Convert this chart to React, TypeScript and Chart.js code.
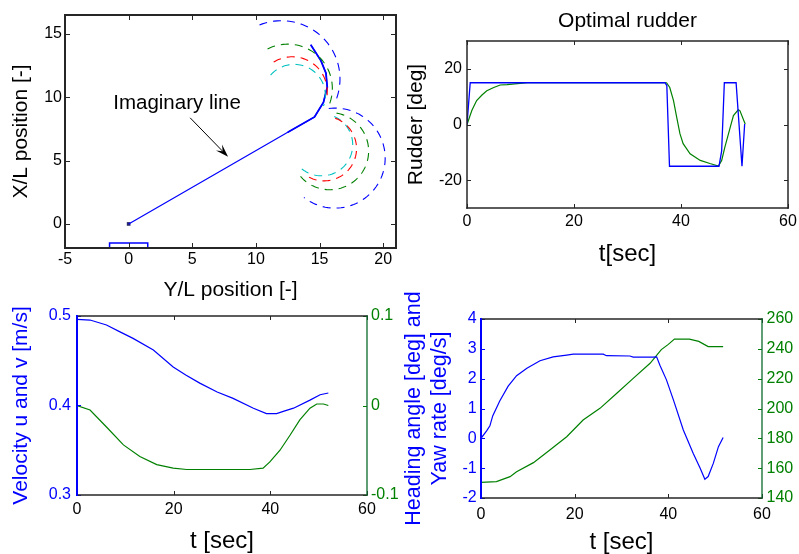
import React, { useEffect, useRef } from 'react';
import { Chart, registerables } from 'chart.js';

Chart.register(...registerables);

const FONT = "'Liberation Sans', Arial, Helvetica, sans-serif";
Chart.defaults.font.family = FONT;

const BLUE = '#0000ff';
const GREEN = '#008000';
const RED = '#ff0000';
const CYAN = '#00c0c0';
const BLACK = '#000000';
const FRAME = '#262626';

// ---------------- Panel A: trajectory (x = Y/L, y = X/L) ----------------
const trajXTicks = [-5, 0, 5, 10, 15, 20];
const trajYTicks = [0, 5, 10, 15];
const pathYL = [0, 12.6, 14.6, 15.3, 15.6, 15.5, 15.1, 14.3];
const pathXL = [0, 7.3, 8.45, 9.6, 10.8, 11.9, 12.9, 14.15];
const hullYL = [12.5, 14.6, 15.3, 15.6, 15.5, 15.1, 14.3];
const hullXL = [7.24, 8.45, 9.6, 10.8, 11.9, 12.9, 14.15];
const startYL = [0];
const startXL = [0];
const boxYL = [-1.5, -1.5, 1.5, 1.5, -1.5];
const boxXL = [-1.9, -1.5, -1.5, -1.9, -1.9];
const arcColors = [BLUE, GREEN, RED, CYAN];
const upperCx = [12.0, 12.5, 12.85, 13.0];
const upperCy = [11.45, 10.7, 10.45, 10.15];
const upperR = [4.6, 3.5, 2.75, 2.45];
const upperStart = [112, 117, 122, 139];
const upperEnd = [-25, -20, -15, -20];
const lowerCx = [16.2, 15.8, 15.35, 15.15];
const lowerCy = [5.2, 5.75, 5.95, 6.25];
const lowerR = [3.95, 3.05, 2.55, 2.45];
const lowerStart = [97, 80, 70, 66];
const lowerEnd = [-128, -140, -125, -134];
const annText = 'Imaginary line';
const annTextPos = [3.8, 9.49];
const arrowFrom = [4.83, 8.38];
const arrowTo = [7.81, 5.3];

// ---------------- Panel B: rudder ----------------
const timeTicks = [0, 20, 40, 60];
const rudderTicks = [-20, 0, 20];
const cmdT = [0, 0.6, 37.0, 37.35, 37.85, 47.1, 47.6, 48.1, 50.3, 51.4, 51.9];
const cmdDeg = [0, 15, 15, 14, -15, -15, -9.5, 15, 15, -15, 0.2];
const actT = [0, 0.9, 1.8, 2.8, 3.7, 5, 6.2, 7.5, 9.9, 11.3, 37.3, 37.9, 38.6, 39.2, 39.8, 40.4, 41.7, 43.6, 45.4, 47.0, 47.6, 48.2, 49.2, 49.8, 50.7, 51.0, 52.0];
const actDeg = [0, 5, 8.6, 10.6, 12.1, 13.3, 14.2, 14.3, 14.75, 15, 15, 13.3, 8.6, 2.6, -3.3, -6.9, -10.5, -12.9, -14, -14.9, -12.9, -8.1, -1, 3.2, 5.3, 5, 0.2];

// ---------------- Panel C: velocities ----------------
const uTicks = [0.3, 0.4, 0.5];
const vTicks = [-0.1, 0, 0.1];
const uT = [0, 2.7, 6.1, 9, 11.6, 15.8, 19.9, 22.5, 25.4, 29, 32.3, 36.5, 39.2, 41.3, 43, 44.8, 48.2, 50.3, 52];
const uVal = [0.4963, 0.4955, 0.49, 0.482, 0.475, 0.462, 0.443, 0.434, 0.425, 0.415, 0.408, 0.397, 0.391, 0.391, 0.394, 0.397, 0.406, 0.412, 0.414];
const vT = [0, 2.7, 6.1, 9.6, 13, 16.5, 19.9, 22.7, 35.8, 38.5, 39.9, 42, 44.1, 46.1, 48.2, 49.6, 51, 52];
const vVal = [0, -0.005, -0.024, -0.044, -0.057, -0.066, -0.07, -0.0715, -0.0715, -0.07, -0.063, -0.05, -0.033, -0.016, -0.003, 0.0017, 0.0017, 0];

// ---------------- Panel D: yaw rate and heading ----------------
const yawTicks = [-2, -1, 0, 1, 2, 3, 4];
const headingTicks = [140, 160, 180, 200, 220, 240, 260];
const yawT = [0, 1.2, 1.9, 2.5, 4.0, 5.8, 7.6, 9.8, 12.6, 15.4, 18.3, 19.7, 26.1, 26.8, 31.8, 32.5, 36.8, 37.5, 38.2, 39.6, 41.1, 43.2, 45.3, 46.8, 47.8, 48.5, 49.6, 50.7, 51.7];
const yawVal = [0, 0.25, 0.42, 0.75, 1.25, 1.75, 2.1, 2.35, 2.6, 2.73, 2.79, 2.82, 2.82, 2.77, 2.76, 2.72, 2.72, 2.73, 2.45, 1.96, 1.28, 0.28, -0.5, -1.0, -1.37, -1.28, -0.84, -0.28, 0.03];
const hdT = [0, 3.3, 6.2, 7.6, 11.2, 14.7, 18.3, 21.8, 25.4, 29, 32.5, 36.1, 38.5, 40, 41.3, 44.5, 46.5, 48.5, 51.7];
const hdVal = [150.5, 151, 154.3, 157.6, 163.7, 172.2, 181.1, 192.3, 200.1, 210.2, 220.2, 230.3, 239.5, 243, 246.5, 246.5, 245, 241.5, 241.5];

// ---------------- helpers ----------------
const zip = (xs: number[], ys: number[]) => xs.map((x, i) => ({ x, y: ys[i] }));

function arcPoints(cx: number, cy: number, r: number, a0: number, a1: number) {
  const pts: { x: number; y: number }[] = [];
  const n = Math.max(2, Math.round(Math.abs(a1 - a0) / 3));
  for (let i = 0; i <= n; i++) {
    const a = ((a0 + ((a1 - a0) * i) / n) * Math.PI) / 180;
    pts.push({ x: cx + r * Math.cos(a), y: cy + r * Math.sin(a) });
  }
  return pts;
}

function line(data: any[], color: string, width: number, extra: any = {}) {
  return {
    data,
    showLine: true,
    borderColor: color,
    backgroundColor: color,
    borderWidth: width,
    pointRadius: 0,
    fill: false,
    tension: 0,
    ...extra,
  };
}

function hAxis(o: any) {
  return {
    type: 'linear',
    position: 'bottom',
    min: o.min,
    max: o.max,
    grid: { display: false, drawTicks: false },
    border: { display: false },
    ticks: {
      autoSkip: false,
      maxRotation: 0,
      minRotation: 0,
      padding: o.tickPad,
      color: BLACK,
      font: { family: FONT, size: 16, lineHeight: 1.2 },
      callback: (v: any) => String(v),
    },
    title: {
      display: true,
      text: o.title,
      color: BLACK,
      font: { family: FONT, size: o.titleSize, lineHeight: 1.2 },
      padding: { top: 0, bottom: o.titlePad },
    },
    afterBuildTicks: (s: any) => {
      s.ticks = o.ticks.map((value: number) => ({ value }));
    },
    afterFit: (s: any) => {
      s.height = o.height;
      s.paddingLeft = 0;
      s.paddingRight = 0;
      s.paddingTop = 0;
      s.paddingBottom = 0;
    },
  };
}

function vAxis(o: any) {
  return {
    type: 'linear',
    position: o.position || 'left',
    min: o.min,
    max: o.max,
    grid: { display: false, drawTicks: false },
    border: { display: false },
    ticks: {
      autoSkip: false,
      padding: o.tickPad,
      color: o.color || BLACK,
      font: { family: FONT, size: 16, lineHeight: 1.2 },
      callback: (v: any) => String(v),
    },
    title: o.title
      ? {
          display: true,
          text: o.title,
          color: o.color || BLACK,
          font: { family: FONT, size: o.titleSize || 21, lineHeight: o.titleLH || 1.2 },
          padding: { top: o.titlePad, bottom: 0 },
        }
      : { display: false },
    afterBuildTicks: (s: any) => {
      s.ticks = o.ticks.map((value: number) => ({ value }));
    },
    afterFit: (s: any) => {
      s.width = o.width;
      s.paddingLeft = 0;
      s.paddingRight = 0;
      s.paddingTop = 0;
      s.paddingBottom = 0;
    },
  };
}

type Side = 'top' | 'bottom' | 'left' | 'right';
interface TickSet {
  scale: string;
  edges: Side[];
  values: number[];
  color: string;
}

function framePlugin(sides: Record<Side, { color: string; width: number }>, tickSets: TickSet[], tl: number) {
  return {
    id: 'matlabFrame',
    afterDatasetsDraw(chart: any) {
      const { ctx, chartArea: a } = chart;
      ctx.save();
      ctx.lineWidth = 1;
      for (const t of tickSets) {
        const sc = chart.scales[t.scale];
        ctx.strokeStyle = t.color;
        ctx.beginPath();
        for (const v of t.values) {
          const p = Math.round(sc.getPixelForValue(v)) + 0.5;
          for (const e of t.edges) {
            if (e === 'bottom') {
              ctx.moveTo(p, a.bottom);
              ctx.lineTo(p, a.bottom - tl);
            } else if (e === 'top') {
              ctx.moveTo(p, a.top);
              ctx.lineTo(p, a.top + tl);
            } else if (e === 'left') {
              ctx.moveTo(a.left, p);
              ctx.lineTo(a.left + tl, p);
            } else {
              ctx.moveTo(a.right, p);
              ctx.lineTo(a.right - tl, p);
            }
          }
        }
        ctx.stroke();
      }
      const seg = (x1: number, y1: number, x2: number, y2: number, s: { color: string; width: number }) => {
        ctx.strokeStyle = s.color;
        ctx.lineWidth = s.width;
        ctx.beginPath();
        ctx.moveTo(x1, y1);
        ctx.lineTo(x2, y2);
        ctx.stroke();
      };
      ctx.lineCap = 'square';
      seg(a.left, a.top, a.right, a.top, sides.top);
      seg(a.left, a.bottom, a.right, a.bottom, sides.bottom);
      seg(a.left, a.top, a.left, a.bottom, sides.left);
      seg(a.right, a.top, a.right, a.bottom, sides.right);
      ctx.restore();
    },
  };
}

const baseOptions = (padding: any) => ({
  animation: false,
  responsive: false,
  maintainAspectRatio: false,
  events: [],
  layout: { padding, autoPadding: false },
  plugins: { legend: { display: false }, tooltip: { enabled: false }, title: { display: false } },
});

// ---------------- configs ----------------
function trajectoryConfig() {
  const datasets: any[] = [];
  for (let i = 0; i < 4; i++) {
    datasets.push(line(arcPoints(upperCx[i], upperCy[i], upperR[i], upperStart[i], upperEnd[i]), arcColors[i], 1.1, { borderDash: [8, 6] }));
    datasets.push(line(arcPoints(lowerCx[i], lowerCy[i], lowerR[i], lowerStart[i], lowerEnd[i]), arcColors[i], 1.1, { borderDash: [8, 6] }));
  }
  datasets.push(line(zip(pathYL, pathXL), BLUE, 1.2));
  datasets.push(line(zip(hullYL, hullXL), BLUE, 1.8));
  datasets.push(line(zip(boxYL, boxXL), BLUE, 1.5));
  datasets.push({
    data: zip(startYL, startXL),
    showLine: false,
    pointStyle: 'rect',
    pointRadius: 2.6,
    pointBackgroundColor: '#2a2a6a',
    pointBorderColor: '#2a2a6a',
    pointBorderWidth: 0,
  });
  const sides = { top: { color: FRAME, width: 2 }, bottom: { color: FRAME, width: 2 }, left: { color: FRAME, width: 2 }, right: { color: FRAME, width: 2 } };
  const ann = {
    id: 'annotation',
    afterDatasetsDraw(chart: any) {
      const { ctx, scales } = chart;
      const x = scales.x;
      const y = scales.y;
      ctx.save();
      ctx.fillStyle = BLACK;
      ctx.font = `20.5px ${FONT}`;
      ctx.textAlign = 'center';
      ctx.textBaseline = 'middle';
      ctx.fillText(annText, x.getPixelForValue(annTextPos[0]), y.getPixelForValue(annTextPos[1]));
      const x0 = x.getPixelForValue(arrowFrom[0]);
      const y0 = y.getPixelForValue(arrowFrom[1]);
      const x1 = x.getPixelForValue(arrowTo[0]);
      const y1 = y.getPixelForValue(arrowTo[1]);
      const ang = Math.atan2(y1 - y0, x1 - x0);
      const L = 13;
      const W = 4.2;
      const c = Math.cos(ang);
      const s = Math.sin(ang);
      ctx.strokeStyle = BLACK;
      ctx.lineWidth = 1;
      ctx.beginPath();
      ctx.moveTo(x0, y0);
      ctx.lineTo(x1 - L * 0.6 * c, y1 - L * 0.6 * s);
      ctx.stroke();
      ctx.beginPath();
      ctx.moveTo(x1, y1);
      ctx.lineTo(x1 - L * c + W * s, y1 - L * s - W * c);
      ctx.lineTo(x1 - L * 0.6 * c, y1 - L * 0.6 * s);
      ctx.lineTo(x1 - L * c - W * s, y1 - L * s + W * c);
      ctx.closePath();
      ctx.fill();
      ctx.restore();
    },
  };
  return {
    type: 'scatter',
    data: { datasets },
    options: {
      ...baseOptions({ left: 0, top: 15, right: 4, bottom: 0 }),
      scales: {
        x: hAxis({ min: -5, max: 21, ticks: trajXTicks, height: 57, tickPad: 1.5, title: 'Y/L position [-]', titleSize: 21, titlePad: 2.4 }),
        y: vAxis({ min: -1.9, max: 16.5, ticks: trajYTicks, width: 65, tickPad: 3, title: 'X/L position [-]', titlePad: 8.4 }),
      },
    },
    plugins: [
      framePlugin(sides, [
        { scale: 'x', edges: ['bottom', 'top'], values: trajXTicks, color: FRAME },
        { scale: 'y', edges: ['left', 'right'], values: trajYTicks, color: FRAME },
      ], 5),
      ann,
    ],
  };
}

function rudderConfig() {
  const sides = { top: { color: FRAME, width: 1.5 }, bottom: { color: FRAME, width: 1.5 }, left: { color: FRAME, width: 1.5 }, right: { color: FRAME, width: 1.5 } };
  const titlePlugin = {
    id: 'panelTitle',
    afterDraw(chart: any) {
      const { ctx, chartArea: a } = chart;
      ctx.save();
      ctx.fillStyle = BLACK;
      ctx.font = `21px ${FONT}`;
      ctx.textAlign = 'center';
      ctx.textBaseline = 'middle';
      ctx.fillText('Optimal rudder', (a.left + a.right) / 2, 21.5);
      ctx.restore();
    },
  };
  return {
    type: 'scatter',
    data: {
      datasets: [line(zip(cmdT, cmdDeg), BLUE, 1.3), line(zip(actT, actDeg), GREEN, 1.2)],
    },
    options: {
      ...baseOptions({ left: 0, top: 41, right: 11, bottom: 0 }),
      scales: {
        x: hAxis({ min: 0, max: 60, ticks: timeTicks, height: 62, tickPad: 4.1, title: 't[sec]', titleSize: 24, titlePad: 1.6 }),
        y: vAxis({ min: -30, max: 30, ticks: rudderTicks, width: 67, tickPad: 5, title: 'Rudder [deg]', titlePad: 3.4 }),
      },
    },
    plugins: [
      framePlugin(sides, [
        { scale: 'x', edges: ['bottom', 'top'], values: timeTicks, color: FRAME },
        { scale: 'y', edges: ['left', 'right'], values: rudderTicks, color: FRAME },
      ], 4),
      titlePlugin,
    ],
  };
}

const dualSides = {
  top: { color: FRAME, width: 1.5 },
  bottom: { color: FRAME, width: 1.5 },
  left: { color: BLUE, width: 2 },
  right: { color: '#0a6a2a', width: 1.3 },
};

function velocityConfig() {
  return {
    type: 'scatter',
    data: {
      datasets: [line(zip(uT, uVal), BLUE, 1.2, { yAxisID: 'y' }), line(zip(vT, vVal), GREEN, 1.2, { yAxisID: 'y2' })],
    },
    options: {
      ...baseOptions({ left: 0, top: 36, right: 0, bottom: 0 }),
      scales: {
        x: hAxis({ min: 0, max: 60, ticks: timeTicks, height: 65, tickPad: 4.6, title: 't [sec]', titleSize: 24, titlePad: 4.6 }),
        y: vAxis({ min: 0.3, max: 0.5, ticks: uTicks, width: 77, tickPad: 6, title: 'Velocity u and v [m/s]', titlePad: 8.4, color: BLUE }),
        y2: vAxis({ position: 'right', min: -0.1, max: 0.1, ticks: vTicks, width: 33, tickPad: 4, color: GREEN }),
      },
    },
    plugins: [
      framePlugin(dualSides, [
        { scale: 'x', edges: ['bottom', 'top'], values: timeTicks, color: FRAME },
        { scale: 'y', edges: ['left'], values: uTicks, color: BLUE },
        { scale: 'y2', edges: ['right'], values: vTicks, color: GREEN },
      ], 4),
    ],
  };
}

function headingConfig() {
  return {
    type: 'scatter',
    data: {
      datasets: [line(zip(yawT, yawVal), BLUE, 1.2, { yAxisID: 'y' }), line(zip(hdT, hdVal), GREEN, 1.2, { yAxisID: 'y2' })],
    },
    options: {
      ...baseOptions({ left: 0, top: 39, right: 0, bottom: 0 }),
      scales: {
        x: hAxis({ min: 0, max: 60, ticks: timeTicks, height: 62, tickPad: 6.9, title: 't [sec]', titleSize: 24, titlePad: 3.1 }),
        y: vAxis({
          min: -2,
          max: 4,
          ticks: yawTicks,
          width: 81,
          tickPad: 4.3,
          title: ['Heading angle [deg] and', 'Yaw rate [deg/s]'],
          titleSize: 21.5,
          titlePad: 1.1,
          color: BLUE,
        }),
        y2: vAxis({ position: 'right', min: 140, max: 260, ticks: headingTicks, width: 37, tickPad: 4.5, color: GREEN }),
      },
    },
    plugins: [
      framePlugin(dualSides, [
        { scale: 'x', edges: ['bottom', 'top'], values: timeTicks, color: FRAME },
        { scale: 'y', edges: ['left'], values: yawTicks, color: BLUE },
        { scale: 'y2', edges: ['right'], values: headingTicks, color: GREEN },
      ], 4),
    ],
  };
}

function Panel(props: { left: number; top: number; width: number; height: number; make: () => any }) {
  const ref = useRef<HTMLCanvasElement | null>(null);
  useEffect(() => {
    if (!ref.current) return;
    const chart = new Chart(ref.current, props.make());
    return () => chart.destroy();
  }, []);
  return (
    <canvas
      ref={ref}
      width={props.width}
      height={props.height}
      style={{ position: 'absolute', left: props.left, top: props.top, width: props.width, height: props.height, display: 'block' }}
    />
  );
}

export default function App() {
  return (
    <div style={{ position: 'absolute', left: 0, top: 0, width: 799, height: 554, overflow: 'hidden', background: '#ffffff' }}>
      <Panel left={0} top={0} width={400} height={305} make={trajectoryConfig} />
      <Panel left={400} top={0} width={399} height={270} make={rudderConfig} />
      <Panel left={0} top={280} width={400} height={280} make={velocityConfig} />
      <Panel left={400} top={280} width={399} height={280} make={headingConfig} />
    </div>
  );
}
